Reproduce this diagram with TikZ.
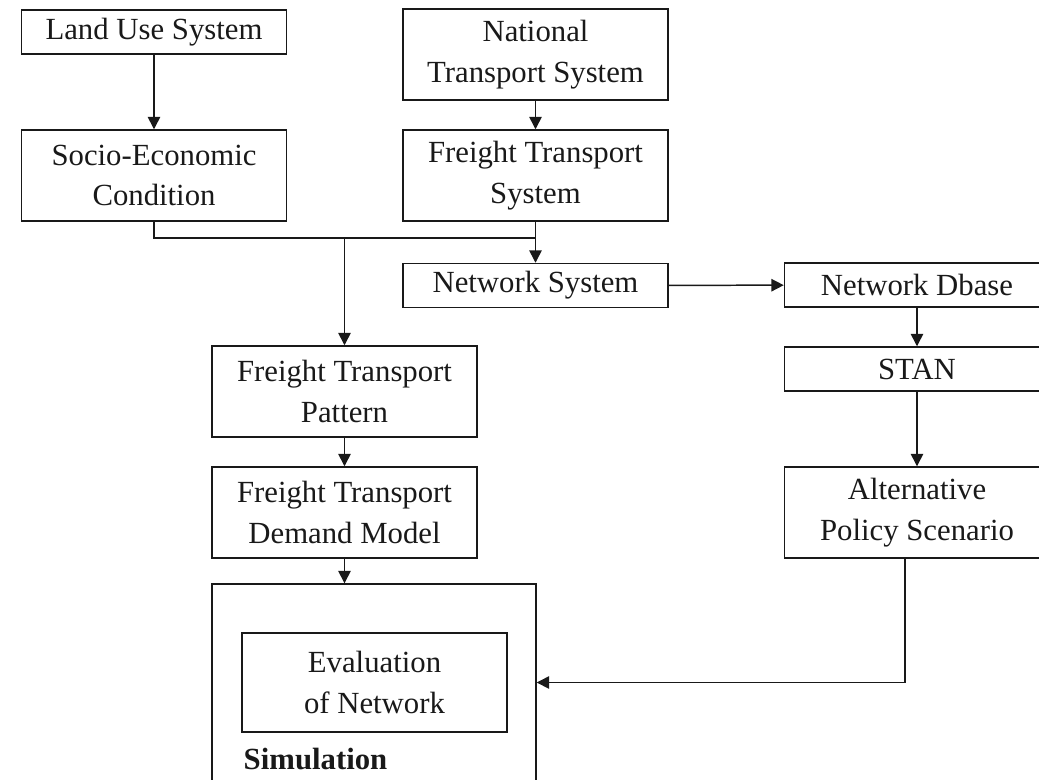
\documentclass[tikz,border=0pt]{standalone}
\usepackage{fontspec}
\setmainfont{Liberation Serif}
\usetikzlibrary{arrows.meta,positioning}

\begin{document}
\begin{tikzpicture}[x=0.02cm,y=-0.02cm,>={Triangle[width=7pt,length=7pt]},
  line width=0.85pt,color={black!90},
  box/.style={draw,align=center,inner sep=0pt,minimum width=5.3cm,minimum height=1.82cm,
    font=\fontsize{17.5}{23}\selectfont},
  flat/.style={box,minimum height=0.88cm}]
  \clip (0,0) rectangle (1039,779);

  \node[flat]  (land)   at (154,32)    {Land Use System};
  \node[box]   (natl)   at (535.5,54.5) {National\\Transport System};
  \node[box]   (socio)  at (154,175.5) {Socio-Economic\\Condition};
  \node[box]   (fts)    at (535.5,175.5) {Freight Transport\\System};
  \node[flat]  (netsys) at (535.5,285.5) {Network System};
  \node[flat]  (dbase)  at (917,285)   {Network Dbase};
  \node[flat]  (stan)   at (917,369)   {STAN};
  \node[box]   (aps)    at (917,512.5) {Alternative\\Policy Scenario};
  \node[box]   (ftp)    at (344.5,391.5) {Freight Transport\\Pattern};
  \node[box]   (fdm)    at (344.5,512.5) {Freight Transport\\Demand Model};
  \node[draw,minimum width=6.48cm,minimum height=4.72cm] (sim) at (374,702) {};
  \node[box,minimum height=1.98cm] (eval) at (374.5,682.5) {Evaluation\\of Network};
  \node[anchor=base west,inner sep=0pt,font=\fontsize{17.5}{23}\selectfont\bfseries] (simlbl) at (243,769) {Simulation};

  \coordinate (jn) at (344.5,238);
  \draw (socio.south) |- (jn) -- (fts.south |- jn);
  \path[->]
  (land) edge (socio)
  (natl) edge (fts)
  (fts) edge (netsys)
  (jn) edge (ftp)
  (netsys) edge (dbase)
  (dbase) edge (stan)
  (stan) edge (aps)
  (ftp) edge (fdm)
  (fdm) edge (fdm.south |- sim.north);
  \draw[->] ([xshift=-0.24cm]aps.south) |- (eval.east -| sim.east);

\end{tikzpicture}
\end{document}
